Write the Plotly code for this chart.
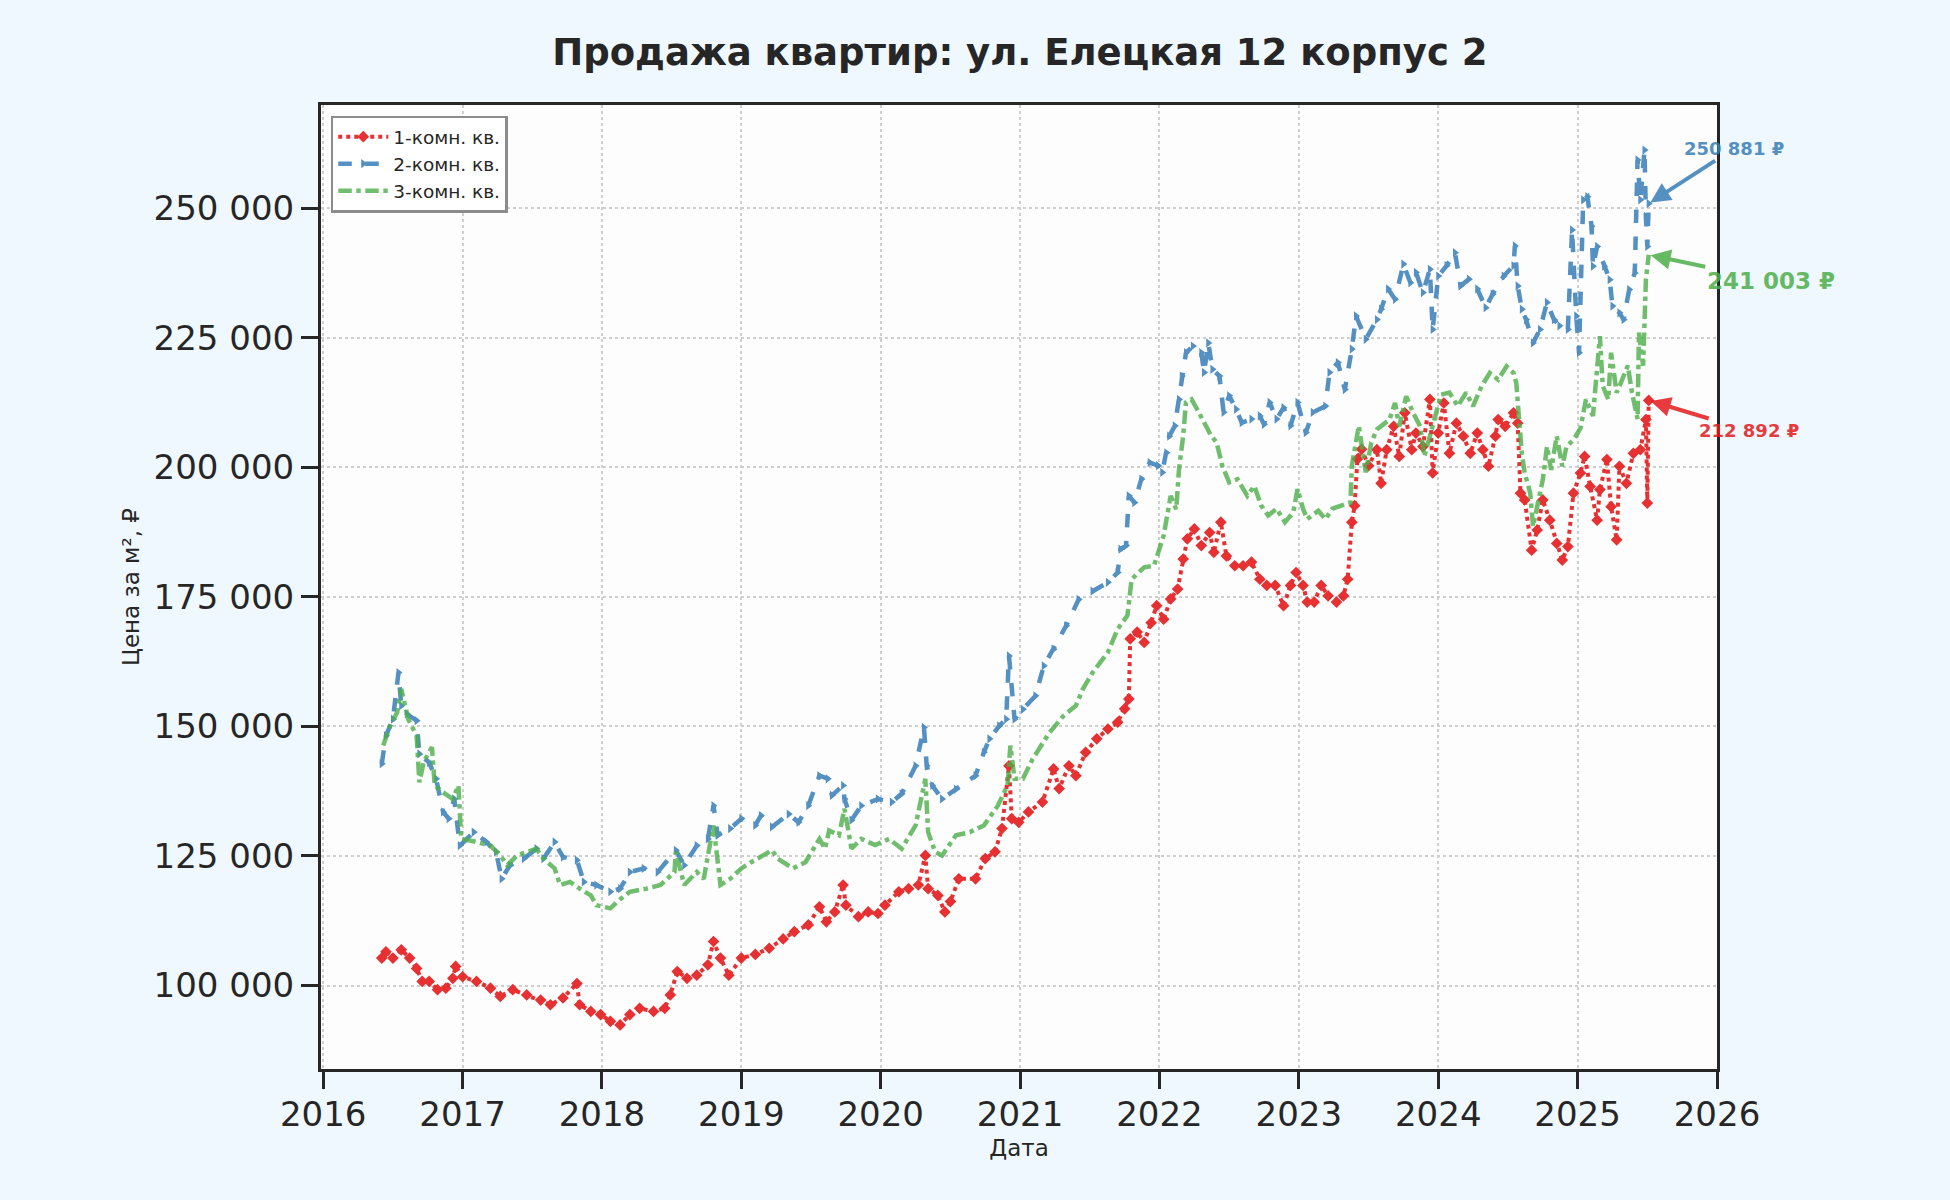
import plotly.graph_objects as go

# 1-комн. кв.
t1 = [2016.42, 2016.45, 2016.50, 2016.56, 2016.62, 2016.67, 2016.71, 2016.76, 2016.82, 2016.88,
      2016.93, 2016.95, 2017.00, 2017.10, 2017.20, 2017.27, 2017.36, 2017.46, 2017.56, 2017.63,
      2017.72, 2017.82, 2017.84, 2017.92, 2017.99, 2018.06, 2018.13, 2018.20, 2018.27, 2018.37,
      2018.45, 2018.49, 2018.54, 2018.61, 2018.68, 2018.76, 2018.80, 2018.85, 2018.91, 2019.00,
      2019.10, 2019.20, 2019.30, 2019.38, 2019.48, 2019.56, 2019.61, 2019.67, 2019.73, 2019.75,
      2019.84, 2019.91, 2019.98, 2020.03, 2020.13, 2020.20, 2020.27, 2020.32, 2020.34, 2020.41,
      2020.46, 2020.50, 2020.56, 2020.68, 2020.75, 2020.82, 2020.87, 2020.92, 2020.94, 2020.99,
      2021.06, 2021.16, 2021.24, 2021.28, 2021.35, 2021.40, 2021.47, 2021.55, 2021.63, 2021.70,
      2021.75, 2021.78, 2021.79, 2021.84, 2021.89, 2021.94, 2021.98, 2022.03, 2022.08, 2022.13,
      2022.17, 2022.20, 2022.25, 2022.30, 2022.36, 2022.39, 2022.44, 2022.48, 2022.54, 2022.60,
      2022.66, 2022.72, 2022.77, 2022.83, 2022.89, 2022.94, 2022.98, 2023.03, 2023.06, 2023.11,
      2023.16, 2023.21, 2023.27, 2023.32, 2023.35, 2023.38, 2023.40, 2023.42, 2023.45, 2023.50,
      2023.56, 2023.59, 2023.63, 2023.68, 2023.72, 2023.76, 2023.81, 2023.84, 2023.89, 2023.94,
      2023.96, 2024.00, 2024.04, 2024.08, 2024.13, 2024.18, 2024.23, 2024.28, 2024.32, 2024.36,
      2024.41, 2024.43, 2024.48, 2024.54, 2024.57, 2024.59, 2024.62, 2024.67, 2024.71, 2024.75,
      2024.80, 2024.85, 2024.89, 2024.93, 2024.97, 2025.02, 2025.05, 2025.09, 2025.14, 2025.16,
      2025.21, 2025.24, 2025.28, 2025.30, 2025.35, 2025.40, 2025.45, 2025.49, 2025.50, 2025.51]
p1 = [105300, 106500, 105300, 106900, 105300, 103300, 100800, 100800, 99200, 99500,
      101400, 103700, 101700, 100800, 99500, 97900, 99200, 98200, 97200, 96300,
      97600, 100400, 96300, 95000, 94400, 93100, 92400, 94400, 95600, 95000,
      95600, 98200, 102700, 101400, 102000, 104000, 108500, 105300, 102000, 105300,
      106000, 107200, 109000, 110400, 111700, 115200, 112300, 114200, 119400, 115500,
      113300, 114200, 113900, 115500, 118100, 118700, 119400, 125100, 118700, 117400,
      114200, 116200, 120600, 120600, 124500, 125800, 130300, 142400, 132200, 131500,
      133500, 135400, 141800, 138000, 142400, 140500, 145000, 147600, 149500, 150800,
      153400, 155300, 166900, 168200, 166200, 170000, 173300, 170700, 174600, 176500,
      182300, 186200, 188100, 184900, 187400, 183600, 189400, 182900, 181000, 181000,
      181700, 178400, 177200, 177200, 173300, 177200, 179700, 177200, 174000, 174000,
      177200, 175200, 174000, 175200, 178400, 189400, 192600, 201600, 203500, 200300,
      203400, 196900, 203400, 207900, 202100, 210500, 203400, 206600, 204000, 213100,
      198900, 206600, 212400, 202700, 208500, 206000, 202700, 206600, 203400, 200200,
      206000, 209200, 207900, 210500, 208500, 195000, 193700, 184000, 187900, 193700,
      189800, 185300, 182100, 184700, 195000, 198900, 202100, 196300, 189800, 195700,
      201500, 192400, 186000, 200200, 196900, 202700, 203400, 209200, 193100, 212892]

# 2-комн. кв.
t2 = [2016.42, 2016.45, 2016.50, 2016.54, 2016.56, 2016.60, 2016.67, 2016.69, 2016.76, 2016.81,
      2016.86, 2016.90, 2016.94, 2016.98, 2017.08, 2017.17, 2017.24, 2017.28, 2017.34, 2017.44,
      2017.53, 2017.58, 2017.66, 2017.72, 2017.82, 2017.87, 2017.96, 2018.06, 2018.13, 2018.20,
      2018.30, 2018.40, 2018.53, 2018.59, 2018.68, 2018.76, 2018.80, 2018.83, 2018.92, 2019.00,
      2019.10, 2019.14, 2019.22, 2019.34, 2019.41, 2019.48, 2019.56, 2019.62, 2019.65, 2019.73,
      2019.74, 2019.79, 2019.86, 2019.98, 2020.08, 2020.15, 2020.25, 2020.31, 2020.33, 2020.37,
      2020.44, 2020.54, 2020.68, 2020.74, 2020.78, 2020.85, 2020.90, 2020.92, 2020.96, 2021.02,
      2021.11, 2021.17, 2021.24, 2021.33, 2021.42, 2021.52, 2021.63, 2021.70, 2021.72, 2021.76,
      2021.78, 2021.82, 2021.87, 2021.93, 2021.99, 2022.02, 2022.05, 2022.07, 2022.11, 2022.14,
      2022.16, 2022.19, 2022.24, 2022.30, 2022.32, 2022.35, 2022.38, 2022.43, 2022.46, 2022.50,
      2022.55, 2022.59, 2022.66, 2022.72, 2022.75, 2022.79, 2022.84, 2022.89, 2022.94, 2022.99,
      2023.05, 2023.10, 2023.19, 2023.22, 2023.28, 2023.33, 2023.38, 2023.41, 2023.48, 2023.56,
      2023.59, 2023.64, 2023.69, 2023.75, 2023.80, 2023.84, 2023.89, 2023.94, 2023.96, 2024.00,
      2024.06, 2024.12, 2024.16, 2024.22, 2024.28, 2024.34, 2024.39, 2024.47, 2024.54, 2024.55,
      2024.57, 2024.60, 2024.63, 2024.68, 2024.73, 2024.78, 2024.83, 2024.87, 2024.93, 2024.96,
      2024.99, 2025.01, 2025.04, 2025.07, 2025.10, 2025.11, 2025.14, 2025.19, 2025.23, 2025.25,
      2025.30, 2025.33, 2025.37, 2025.41, 2025.43, 2025.45, 2025.48, 2025.49, 2025.50, 2025.51]
p2 = [142800, 148200, 151400, 160400, 154000, 152400, 151100, 144700, 143000, 139900,
      133500, 132200, 136000, 127000, 129600, 127700, 125800, 120600, 123200, 124500,
      126400, 124500, 127700, 124800, 124200, 120000, 119400, 118100, 118700, 121900,
      122600, 121900, 126100, 123200, 127000, 128300, 134700, 129000, 130300, 132200,
      130900, 132800, 130600, 133100, 131500, 134700, 140500, 139900, 136700, 138600,
      136000, 131900, 134700, 136000, 135400, 137000, 142400, 149800, 142400, 138600,
      136000, 137900, 140500, 145000, 147600, 150100, 151400, 163600, 151400, 153300,
      155900, 161700, 164900, 169400, 174500, 176100, 177800, 179700, 184200, 184900,
      194500, 193200, 197700, 200900, 200300, 199000, 202800, 206000, 208000, 213100,
      217600, 222100, 223400, 222100, 218300, 224000, 218900, 217600, 210600, 213800,
      211200, 208600, 209300, 209900, 208300, 212500, 209300, 211500, 208000, 212500,
      206700, 210600, 211800, 218300, 220200, 215000, 222800, 229200, 224700, 228500,
      230500, 234400, 232400, 239200, 235600, 237600, 233700, 238200, 226600, 236900,
      238900, 241400, 235000, 236300, 234400, 230800, 233400, 236900, 238900, 242700,
      235000, 230500, 228500, 224000, 226600, 231800, 228500, 227300, 226600, 245800,
      229200, 222100, 251600, 252200, 246500, 238800, 242600, 238800, 236200, 231100,
      229800, 228500, 234300, 237500, 259300, 251600, 261200, 248400, 242600, 250881]

# 3-комн. кв.
t3 = [2016.43, 2016.48, 2016.53, 2016.56, 2016.61, 2016.67, 2016.69, 2016.72, 2016.78, 2016.80,
      2016.86, 2016.93, 2016.97, 2016.99, 2017.10, 2017.20, 2017.27, 2017.32, 2017.39, 2017.48,
      2017.53, 2017.58, 2017.66, 2017.70, 2017.77, 2017.84, 2017.92, 2017.96, 2018.06, 2018.11,
      2018.20, 2018.32, 2018.42, 2018.52, 2018.53, 2018.59, 2018.68, 2018.73, 2018.80, 2018.85,
      2018.92, 2019.00, 2019.07, 2019.22, 2019.26, 2019.37, 2019.46, 2019.56, 2019.60, 2019.63,
      2019.70, 2019.74, 2019.79, 2019.86, 2019.96, 2020.06, 2020.15, 2020.25, 2020.32, 2020.34,
      2020.39, 2020.44, 2020.54, 2020.64, 2020.74, 2020.84, 2020.91, 2020.93, 2020.96, 2021.02,
      2021.09, 2021.21, 2021.31, 2021.40, 2021.45, 2021.52, 2021.63, 2021.70, 2021.77, 2021.80,
      2021.89, 2021.96, 2022.00, 2022.03, 2022.08, 2022.12, 2022.14, 2022.17, 2022.19, 2022.23,
      2022.27, 2022.32, 2022.37, 2022.41, 2022.45, 2022.50, 2022.56, 2022.63, 2022.68, 2022.73,
      2022.78, 2022.84, 2022.90, 2022.96, 2022.99, 2023.03, 2023.06, 2023.14, 2023.19, 2023.24,
      2023.31, 2023.37, 2023.38, 2023.43, 2023.48, 2023.52, 2023.56, 2023.61, 2023.65, 2023.69,
      2023.72, 2023.77, 2023.82, 2023.87, 2023.90, 2023.94, 2023.99, 2024.02, 2024.08, 2024.14,
      2024.20, 2024.25, 2024.31, 2024.37, 2024.43, 2024.49, 2024.54, 2024.56, 2024.58, 2024.60,
      2024.62, 2024.66, 2024.68, 2024.72, 2024.75, 2024.78, 2024.81, 2024.85, 2024.89, 2024.92,
      2024.97, 2025.02, 2025.06, 2025.11, 2025.16, 2025.18, 2025.22, 2025.24, 2025.28, 2025.31,
      2025.36, 2025.39, 2025.43, 2025.44, 2025.47, 2025.49, 2025.51]
p3 = [146300, 150100, 152700, 157200, 151400, 148200, 139200, 143100, 146000, 138600,
      137300, 136000, 138600, 128300, 127700, 127000, 125100, 123200, 125100, 125800,
      126400, 124500, 122600, 119400, 120000, 118700, 117400, 115500, 114900, 116200,
      118100, 118700, 119400, 121900, 125800, 119400, 121900, 120600, 130900, 119400,
      120600, 122600, 123800, 126100, 124500, 122600, 123800, 128300, 126400, 129900,
      129000, 134100, 126400, 128300, 127100, 128300, 126400, 130900, 139900, 129600,
      125800, 125100, 129000, 129600, 130900, 134700, 138600, 146300, 139900, 139900,
      143700, 148800, 152000, 154000, 157200, 160400, 164300, 168800, 171400, 178400,
      180700, 181000, 184200, 186800, 194500, 191900, 199600, 206100, 212500, 213100,
      211200, 208600, 206100, 204800, 200300, 197100, 197700, 194500, 196400, 192600,
      190700, 192000, 189400, 191300, 195800, 192000, 190000, 191600, 190000, 192000,
      192600, 193200, 200300, 208000, 199000, 204800, 207300, 208500, 209200, 212400,
      207900, 213700, 210500, 207900, 202100, 206000, 211100, 214000, 214400, 211800,
      214400, 211800, 215600, 218200, 216900, 219500, 218200, 216300, 209200, 202700,
      198900, 195000, 188600, 194400, 197600, 204000, 199500, 206000, 200200, 204000,
      205300, 207500, 213100, 209900, 225300, 215700, 213100, 222100, 214400, 216300,
      219600, 214400, 209300, 226000, 219600, 236200, 241003]

names = ["1-комн. кв.", "2-комн. кв.", "3-комн. кв."]
labels = ["212 892 ₽", "250 881 ₽", "241 003 ₽"]

RED = "#e41a1c"
BLUE = "#377eb8"
GREEN = "#4daf4a"
INK = "#262626"
FONT = "DejaVu Sans"

fig = go.Figure()

fig.add_trace(go.Scatter(
    x=t1, y=p1, name=names[0], mode="lines+markers", legendgroup="a",
    line=dict(color=RED, width=4, dash="dot"),
    marker=dict(symbol="diamond", size=9, color=RED),
    opacity=0.9,
))
fig.add_trace(go.Scatter(
    x=t2, y=p2, name=names[1], mode="lines+markers", legendgroup="b",
    line=dict(color=BLUE, width=4.5, dash="dash"),
    marker=dict(symbol="triangle-right", size=8, color=BLUE),
    opacity=0.85,
))
fig.add_trace(go.Scatter(
    x=t3, y=p3, name=names[2], mode="lines", legendgroup="c",
    line=dict(color=GREEN, width=4.5, dash="dashdot"),
    opacity=0.8,
))

# подписи последних значений со стрелками
for t, p, txt, col, size, ax, ay in [
    (t1, p1, labels[0], RED, 18, 100, 30),
    (t2, p2, labels[1], BLUE, 18, 85, -55),
    (t3, p3, labels[2], GREEN, 23, 122, 26),
]:
    fig.add_annotation(
        x=t[-1], y=p[-1], text="<b>" + txt + "</b>",
        showarrow=True, ax=ax, ay=ay, axref="pixel", ayref="pixel",
        arrowhead=2, arrowsize=1, arrowwidth=4, arrowcolor=col, opacity=0.85,
        standoff=2, font=dict(family=FONT, size=size, color=col),
    )

axis_common = dict(
    showline=True, linecolor=INK, linewidth=3, mirror=True,
    ticks="outside", ticklen=17, tickwidth=3, tickcolor=INK,
    showgrid=True, gridcolor="#cfcfcf", gridwidth=2, griddash="dot",
    zeroline=False,
    tickfont=dict(family=FONT, size=34, color=INK),
)

fig.update_xaxes(
    range=[2015.984, 2026.0], tickmode="linear", tick0=2016, dtick=1, tickformat="d",
    title=dict(text="Дата", font=dict(family=FONT, size=23, color=INK), standoff=8),
    ticklabelstandoff=-4,
    **axis_common,
)
fig.update_yaxes(
    range=[83900, 269900], tickmode="linear", tick0=100000, dtick=25000, tickformat=",d",
    title=dict(text="Цена за м², ₽", font=dict(family=FONT, size=23, color=INK), standoff=8),
    **axis_common,
)

fig.update_layout(
    width=1950, height=1200, autosize=False,
    margin=dict(l=321, r=233, t=105, b=131),
    paper_bgcolor="#f0f8ff", plot_bgcolor="#fdfdfd",
    separators=". ",
    title=dict(
        text="<b>Продажа квартир: ул. Елецкая 12 корпус 2</b>",
        x=0.523, xanchor="center", y=0.957, yanchor="middle", yref="container",
        font=dict(family=FONT, size=37, color=INK),
    ),
    legend=dict(
        x=0.007, y=0.989, xanchor="left", yanchor="top",
        bgcolor="white", bordercolor="#8c8c8c", borderwidth=2.5,
        font=dict(family=FONT, size=18.5, color=INK), tracegroupgap=0,
        itemwidth=50,
    ),
    showlegend=True,
)

fig.write_html(
    "out.html",
    config={"displayModeBar": False},
    post_script="document.body.style.margin='0';document.body.style.overflow='hidden';",
)
